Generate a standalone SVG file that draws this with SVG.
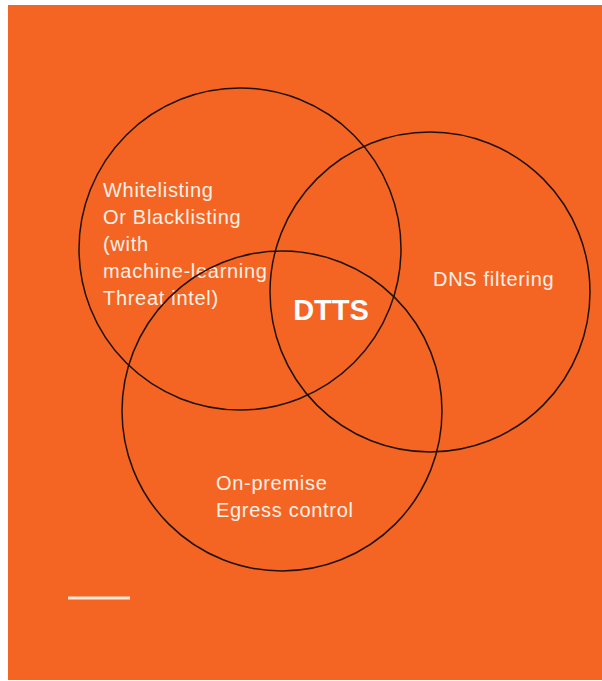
<svg xmlns="http://www.w3.org/2000/svg" width="602" height="681" viewBox="0 0 602 681">
<style>
.ring{fill:none;stroke:#1e120b;stroke-width:1.5}
.lbl{font-family:"Liberation Sans",Arial,sans-serif;font-size:20px;fill:#fdf0e6;letter-spacing:0.7px}
.core{font-family:"Liberation Sans",Arial,sans-serif;font-size:29px;font-weight:bold;fill:#ffffff}
</style>
<rect x="0" y="0" width="602" height="681" fill="#ffffff"/>
<rect x="8" y="5" width="594" height="675" fill="#f46524"/>
<g id="circle-whitelisting">
<circle class="ring" cx="240" cy="249" r="161"/>
<text class="lbl" x="103" y="197">Whitelisting</text>
<text class="lbl" x="103" y="224">Or Blacklisting</text>
<text class="lbl" x="103" y="251">(with</text>
<text class="lbl" x="103" y="278">machine-learning</text>
<text class="lbl" x="103" y="305">Threat intel)</text>
</g>
<g id="circle-dns">
<circle class="ring" cx="430" cy="292" r="160"/>
<text class="lbl" x="433" y="286">DNS filtering</text>
</g>
<g id="circle-egress">
<circle class="ring" cx="282" cy="411" r="160"/>
<text class="lbl" x="216" y="490">On-premise</text>
<text class="lbl" x="216" y="517">Egress control</text>
</g>
<g id="center-dtts">
<text class="core" x="331" y="320" text-anchor="middle">DTTS</text>
</g>
<g id="connectors">
<line x1="68" y1="598" x2="130" y2="598" stroke="#fde9dc" stroke-width="3"/>
</g>
</svg>
